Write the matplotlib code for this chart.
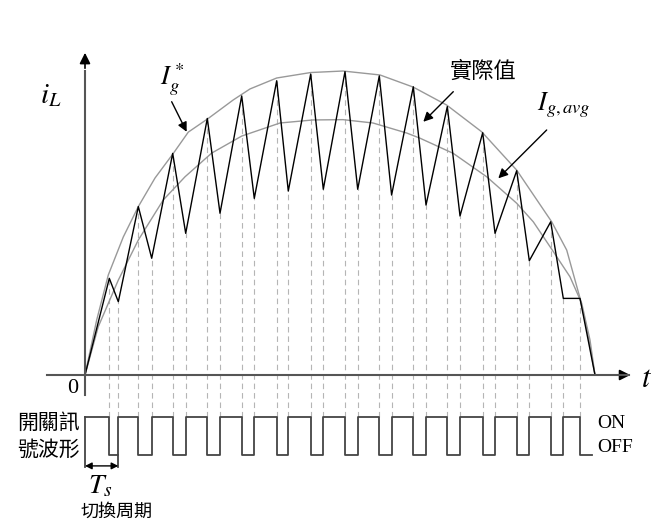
import matplotlib
matplotlib.use("Agg")
import matplotlib.pyplot as plt

# time in switching periods (Ts), current normalised to the reference peak
t_sw = [0, 0.715, 0.98, 1.568, 1.962, 2.579, 2.962, 3.597, 3.971, 4.609, 4.979,
        5.638, 5.979, 6.638, 7.009, 7.647, 8.021, 8.656, 9.018, 9.656, 10.03,
        10.656, 11.03, 11.697, 12.06, 12.697, 13.068, 13.697, 14.068, 14.559, 15.0]
i_sw = [0, 0.318, 0.241, 0.554, 0.384, 0.729, 0.466, 0.844, 0.532, 0.918, 0.581,
        0.968, 0.605, 0.990, 0.611, 0.998, 0.611, 0.984, 0.592, 0.948, 0.559,
        0.883, 0.523, 0.797, 0.466, 0.672, 0.376, 0.504, 0.252, 0.252, 0]

# reference current I_g*
t_ref = [0, 0.344, 0.685, 1.126, 1.568, 2.059, 2.597, 3.038, 3.626, 4.362, 4.853,
         5.638, 6.638, 7.588, 8.676, 9.656, 10.638, 11.668, 12.697, 13.726,
         14.168, 14.559, 14.794, 15.0]
i_ref = [0, 0.181, 0.329, 0.454, 0.554, 0.648, 0.729, 0.799, 0.844, 0.905, 0.941,
         0.977, 0.995, 1.0, 0.987, 0.947, 0.888, 0.800, 0.674, 0.504,
         0.411, 0.253, 0.132, 0]

# average current I_g,avg
t_avg = [0, 0.391, 0.979, 1.568, 2.303, 2.941, 3.726, 4.609, 5.735, 6.706, 7.588,
         8.471, 9.462, 9.853, 10.832, 11.815, 12.697, 13.185, 13.774, 14.265,
         14.609, 14.853, 15.0]
i_avg = [0, 0.159, 0.312, 0.444, 0.576, 0.652, 0.730, 0.786, 0.829, 0.839, 0.840,
         0.829, 0.796, 0.779, 0.729, 0.652, 0.565, 0.504, 0.406, 0.323,
         0.236, 0.115, 0]

signal_end = 14.9
Ts = t_sw[2]

plt.rcParams["mathtext.fontset"] = "stix"
plt.rcParams["font.family"] = ["Liberation Serif", "Noto Sans CJK TC"]
CJK = ["Noto Sans CJK TC", "DejaVu Sans"]

fig = plt.figure(figsize=(6.53, 5.26), dpi=100)
ax = fig.add_axes([0, 0, 1, 1])
ax.set_xlim(-2.5, 16.706)
ax.set_ylim(-0.4967, 1.2336)
ax.axis("off")

sig_hi, sig_lo, ts_y = -0.137, -0.263, -0.299

# dashed switching instants
ax.vlines(t_sw[1:-1], sig_hi, i_sw[1:-1], colors="#b5b5b5", lw=0.8,
          linestyles=(0, (5, 3.5)), zorder=1)

ax.plot(t_ref, i_ref, color="#999999", lw=1.0, zorder=2)
ax.plot(t_avg, i_avg, color="#999999", lw=1.0, zorder=2)
ax.plot(t_sw, i_sw, color="black", lw=1.0, zorder=3)

# axes with arrows
ax.plot([-1.13, 16.0], [0, 0], color="#555555", lw=1.5, zorder=4)
ax.annotate("", xy=(16.12, 0), xytext=(15.6, 0),
            arrowprops=dict(arrowstyle="-|>", color="black", lw=1.2, mutation_scale=16))
ax.plot([0, 0], [-0.066, 1.0], color="#555555", lw=1.5, zorder=4)
ax.annotate("", xy=(0, 1.069), xytext=(0, 1.0),
            arrowprops=dict(arrowstyle="-|>", color="black", lw=1.2, mutation_scale=16))

# switching signal
edges = [0] + t_sw[1:-1] + [signal_end]
levels = [sig_hi if k % 2 == 0 else sig_lo for k in range(len(edges) - 1)]
ax.step(edges, levels + [levels[-1]], where="post", color="#444444", lw=1.3)
ax.plot([0, 0], [sig_hi, ts_y - 0.005], color="#444444", lw=1.3)
ax.plot([Ts, Ts], [sig_lo, ts_y - 0.005], color="#444444", lw=1.3)
ax.annotate("", xy=(0, ts_y), xytext=(Ts, ts_y),
            arrowprops=dict(arrowstyle="<|-|>", color="black", lw=1.0, mutation_scale=10,
                            shrinkA=0, shrinkB=0))

# labels
ax.text(-1.32, 0.918, r"$i_L$", fontsize=21, ha="left", va="center")
ax.text(16.36, -0.016, r"$t$", fontsize=22, ha="left", va="center")
ax.text(-0.353, -0.043, "0", fontsize=16, ha="center", va="center")
ax.text(2.206, 0.954, r"$I^*_g$", fontsize=19, ha="left", va="baseline")
ax.annotate("", xy=(2.99, 0.800), xytext=(2.549, 0.899),
            arrowprops=dict(arrowstyle="-|>", color="black", lw=1.0, mutation_scale=14,
                            shrinkA=0, shrinkB=0))
ax.text(11.71, 1.0, "實際值", family=CJK, fontsize=16, ha="center", va="center")
ax.annotate("", xy=(9.95, 0.833), xytext=(10.832, 0.932),
            arrowprops=dict(arrowstyle="-|>", color="black", lw=1.0, mutation_scale=14,
                            shrinkA=0, shrinkB=0))
ax.text(13.29, 0.872, r"$I_{g,avg}$", fontsize=19, ha="left", va="baseline")
ax.annotate("", xy=(12.156, 0.647), xytext=(13.579, 0.806),
            arrowprops=dict(arrowstyle="-|>", color="black", lw=1.0, mutation_scale=14,
                            shrinkA=0, shrinkB=0))

ax.text(-0.147, -0.202, "開關訊\n號波形", family=CJK, fontsize=15, ha="right",
        va="center", linespacing=1.25)
ax.text(15.47, -0.158, "ON", fontsize=14, ha="center", va="center")
ax.text(15.59, -0.237, "OFF", fontsize=14, ha="center", va="center")
ax.text(0.44, -0.368, r"$T_s$", fontsize=20, ha="center", va="center")
ax.text(0.94, -0.451, "切換周期", family=CJK, fontsize=13, ha="center", va="center")

fig.savefig("out.png", dpi=100)
